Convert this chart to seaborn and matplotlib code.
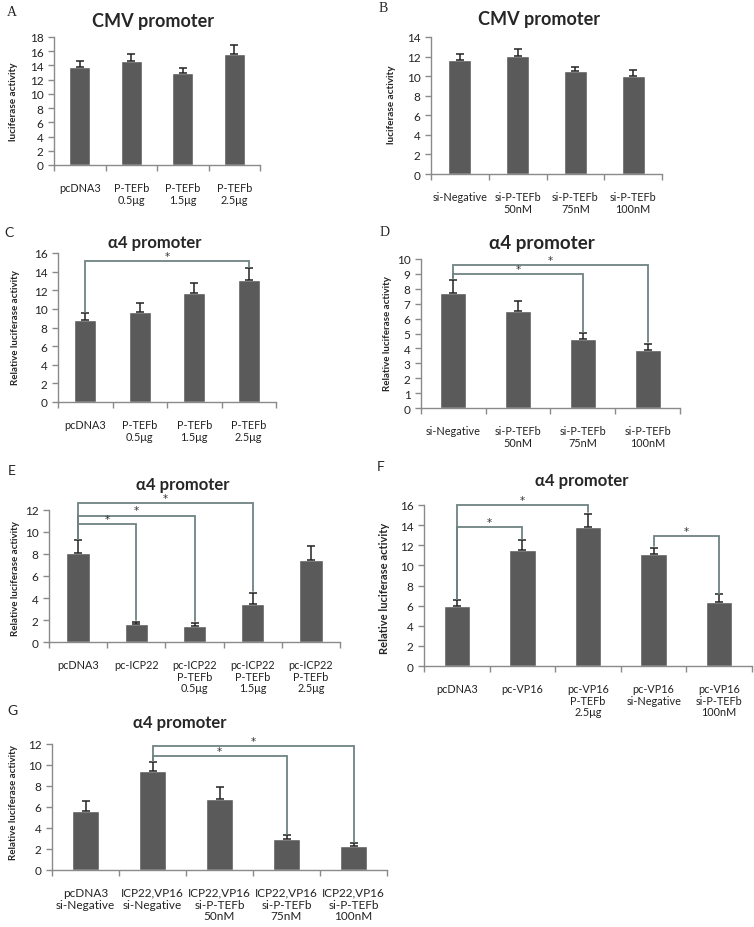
import numpy as np
import pandas as pd
import matplotlib
matplotlib.use("Agg")
import matplotlib.pyplot as plt
import seaborn as sns

# panel data
a_groups = ["pcDNA3", "P-TEFb\n0.5μg", "P-TEFb\n1.5μg", "P-TEFb\n2.5μg"]
a_vals = [13.8, 14.6, 13.0, 15.6]
a_err = [0.8, 1.0, 0.6, 1.3]

b_groups = ["si-Negative", "si-P-TEFb\n50nM", "si-P-TEFb\n75nM", "si-P-TEFb\n100nM"]
b_vals = [11.7, 12.1, 10.5, 10.0]
b_err = [0.6, 0.7, 0.45, 0.65]

c_groups = ["pcDNA3", "P-TEFb\n0.5μg", "P-TEFb\n1.5μg", "P-TEFb\n2.5μg"]
c_vals = [8.8, 9.7, 11.7, 13.1]
c_err = [0.8, 0.9, 1.1, 1.3]

d_groups = ["si-Negative", "si-P-TEFb\n50nM", "si-P-TEFb\n75nM", "si-P-TEFb\n100nM"]
d_vals = [7.7, 6.5, 4.65, 3.9]
d_err = [0.9, 0.7, 0.4, 0.42]

e_groups = ["pcDNA3", "pc-ICP22", "pc-ICP22\nP-TEFb\n0.5μg", "pc-ICP22\nP-TEFb\n1.5μg", "pc-ICP22\nP-TEFb\n2.5μg"]
e_vals = [8.1, 1.6, 1.5, 3.5, 7.5]
e_err = [1.2, 0.25, 0.2, 1.0, 1.25]

f_groups = ["pcDNA3", "pc-VP16", "pc-VP16\nP-TEFb\n2.5μg", "pc-VP16\nsi-Negative", "pc-VP16\nsi-P-TEFb\n100nM"]
f_vals = [6.0, 11.5, 13.8, 11.1, 6.4]
f_err = [0.6, 1.0, 1.3, 0.65, 0.75]

g_groups = ["pcDNA3\nsi-Negative", "ICP22,VP16\nsi-Negative", "ICP22,VP16\nsi-P-TEFb\n50nM",
            "ICP22,VP16\nsi-P-TEFb\n75nM", "ICP22,VP16\nsi-P-TEFb\n100nM"]
g_vals = [5.6, 9.4, 6.8, 3.0, 2.25]
g_err = [1.0, 0.9, 1.1, 0.32, 0.35]

# significance brackets: (from bar, to bar, line level, start y, end y)
c_sig = [(0, 3, 15.1, 9.7, 14.5)]
d_sig = [(0, 2, 9.0, 8.7, 5.1), (0, 3, 9.6, 8.7, 4.4)]
e_sig = [(0, 1, 10.7, 9.4, 2.0), (0, 2, 11.5, 9.4, 1.9), (0, 3, 12.6, 9.4, 4.6)]
f_sig = [(0, 2, 16.0, 6.7, 15.3), (0, 1, 13.8, 6.7, 12.6), (3, 4, 12.9, 11.9, 7.2)]
g_sig = [(1, 3, 10.9, 10.4, 3.4), (1, 4, 11.8, 10.4, 2.7)]

W, H = 754, 928
sns.set_style("ticks")
plt.rcParams["font.family"] = ["Lato", "DejaVu Sans"]

fig = plt.figure(figsize=(W / 100, H / 100), dpi=100)

BAR = "#5a5a5a"
SPINE = "#8a8a8a"
SIG = "#6f8282"


def px_axes(left, right, y0, ytop):
    return fig.add_axes([left / W, 1 - y0 / H, (right - left) / W, (y0 - ytop) / H])


def panel(ax, groups, vals, errs, ymax, step, xfs=7.8, sig=None):
    n = len(groups)
    df = pd.DataFrame({"group": groups, "value": vals})
    sns.barplot(data=df, x="group", y="value", ax=ax, color=BAR, saturation=1,
                width=0.4, errorbar=None)
    ax.errorbar(np.arange(n), vals, yerr=[np.zeros(n), errs], fmt="none",
                ecolor="#222222", elinewidth=1.1, capsize=3, capthick=1.1)
    ax.set_xlim(-0.5, n - 0.5)
    ax.set_ylim(0, ymax)
    ax.set_yticks(np.arange(0, ymax + 0.01, step))
    ax.set_xticks(np.arange(n))
    ax.set_xticklabels(groups, fontsize=xfs, linespacing=1.1, color="#222222")
    ax.set_xticks(np.arange(-0.5, n), minor=True)
    ax.tick_params(axis="x", which="major", length=0, pad=12)
    ax.tick_params(axis="x", which="minor", length=4, color=SPINE, width=1)
    ax.tick_params(axis="y", length=4, color=SPINE, width=1, labelsize=8.5, labelcolor="#222222")
    ax.set_xlabel("")
    ax.set_ylabel("")
    sns.despine(ax=ax)
    for s in ["left", "bottom"]:
        ax.spines[s].set_color(SPINE)
        ax.spines[s].set_linewidth(1)
    for (i, j, lvl, ys, ye) in (sig or []):
        ax.plot([i, i, j, j], [ys, lvl, lvl, ye], color=SIG, lw=1.3, clip_on=False,
                solid_joinstyle="miter")
        ax.text((i + j) / 2, lvl, "*", ha="center", va="bottom", family="DejaVu Sans",
                fontsize=7.5, color="#333333", clip_on=False)


def ftext(x, y, s, **kw):
    fig.text(x / W, 1 - y / H, s, ha="center", va="center", **kw)


# A
ax = px_axes(54, 260, 166, 38)
panel(ax, a_groups, a_vals, a_err, 18, 2)
ftext(153, 22, "CMV promoter", fontsize=13, fontweight="bold")
ftext(14, 102, "luciferase activity", fontsize=7.2, fontweight="bold", rotation=90)
ftext(12, 12, "A", fontsize=10, family="Liberation Serif")

# B
ax = px_axes(431, 662, 175, 38)
panel(ax, b_groups, b_vals, b_err, 14, 2)
ftext(539, 20, "CMV promoter", fontsize=13, fontweight="bold")
ftext(392, 105, "luciferase activity", fontsize=7.2, fontweight="bold", rotation=90)
ftext(383, 8, "B", fontsize=10, family="Liberation Serif")

# C
ax = px_axes(58, 276, 403, 254)
panel(ax, c_groups, c_vals, c_err, 16, 2, sig=c_sig)
ftext(155, 243, "α4 promoter", fontsize=12, fontweight="bold")
ftext(16, 328, "Relative luciferase activity", fontsize=7, fontweight="bold", rotation=90)
ftext(9, 233, "C", fontsize=10)

# D
ax = px_axes(421, 680, 409, 260)
panel(ax, d_groups, d_vals, d_err, 10, 1, sig=d_sig)
ftext(542, 243, "α4 promoter", fontsize=13.5, fontweight="bold")
ftext(387, 334, "Relative luciferase activity", fontsize=7, fontweight="bold", rotation=90)
ftext(385, 233, "D", fontsize=10, family="Liberation Serif")

# E
ax = px_axes(49, 340, 643, 511)
panel(ax, e_groups, e_vals, e_err, 12, 2, sig=e_sig)
ftext(183, 485, "α4 promoter", fontsize=12, fontweight="bold")
ftext(16, 579, "Relative luciferase activity", fontsize=7, fontweight="bold", rotation=90)
ftext(12, 471, "E", fontsize=10)

# F
ax = px_axes(424, 752, 667, 506)
panel(ax, f_groups, f_vals, f_err, 16, 2, sig=f_sig)
ftext(582, 481, "α4 promoter", fontsize=12, fontweight="bold")
ftext(385, 588, "Relative luciferase activity", fontsize=8, fontweight="bold", rotation=90)
ftext(381, 467, "F", fontsize=10)

# G
ax = px_axes(52, 387, 871, 745)
panel(ax, g_groups, g_vals, g_err, 12, 2, xfs=8.5, sig=g_sig)
ftext(180, 723, "α4 promoter", fontsize=12, fontweight="bold")
ftext(14, 803, "Relative luciferase activity", fontsize=7, fontweight="bold", rotation=90)
ftext(12, 711, "G", fontsize=10)

fig.savefig("out.png", dpi=100, facecolor="white")
